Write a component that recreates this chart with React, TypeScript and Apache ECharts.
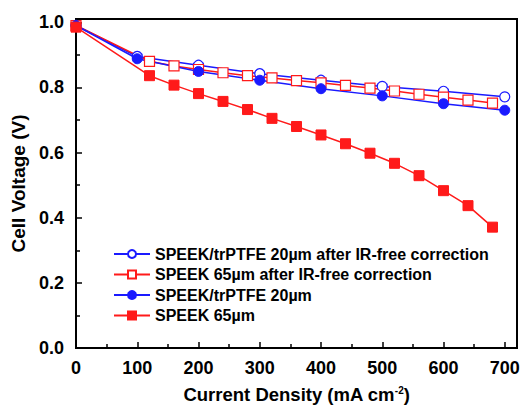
import React, { useEffect, useRef } from "react";
import * as echarts from "echarts";

const seriesNames = [
  "SPEEK/trPTFE 20µm after IR-free correction",
  "SPEEK 65µm after IR-free correction",
  "SPEEK/trPTFE 20µm",
  "SPEEK 65µm",
];

const xBlue = [0, 100, 200, 300, 400, 500, 600, 700];
const blueCorrected = [0.99, 0.895, 0.868, 0.842, 0.822, 0.803, 0.788, 0.771];
const blueRaw = [0.99, 0.888, 0.849, 0.822, 0.796, 0.774, 0.75, 0.73];

const xRed = [0, 120, 160, 200, 240, 280, 320, 360, 400, 440, 480, 520, 560, 600, 640, 680];
const redCorrected = [0.99, 0.88, 0.866, 0.855, 0.845, 0.836, 0.829, 0.821, 0.814, 0.806, 0.798, 0.789, 0.779, 0.77, 0.761, 0.752];
const redRaw = [0.985, 0.836, 0.807, 0.781, 0.757, 0.732, 0.705, 0.68, 0.654, 0.627, 0.598, 0.567, 0.529, 0.483, 0.437, 0.371];

const BLUE = "#1a1aff";
const RED = "#ff1a1a";

function pairs(xs: number[], ys: number[]) {
  return xs.map((x, i) => [x, ys[i]]);
}

export default function App() {
  const ref = useRef<HTMLDivElement>(null);
  useEffect(() => {
    if (!ref.current) return;
    const chart = echarts.init(ref.current, undefined, { renderer: "svg" });
    const font = "Arial, 'Liberation Sans', sans-serif";
    const mk = (name: string, data: number[][], color: string, symbol: string, filled: boolean) => ({
      name,
      type: "line",
      data,
      symbol,
      symbolSize: 10,
      showAllSymbol: true,
      lineStyle: { color, width: 1.5 },
      itemStyle: filled
        ? { color, borderColor: color, borderWidth: 1 }
        : { color: "#ffffff", borderColor: color, borderWidth: 1.2 },
      z: 2,
    });
    chart.setOption({
      animation: false,
      backgroundColor: "#ffffff",
      grid: {
        left: 76,
        right: 6,
        top: 19,
        bottom: 57,
        outerBoundsMode: "none",
        containLabel: false,
        show: true,
        borderColor: "#000",
        borderWidth: 2,
        backgroundColor: "transparent",
      },
      legend: {
        orient: "vertical",
        left: 108,
        top: 241,
        itemWidth: 36,
        itemHeight: 10,
        itemGap: 4.5,
        data: seriesNames,
        textStyle: { color: "#000", fontSize: 16, fontWeight: "bold", fontFamily: font },
      },
      xAxis: {
        type: "value",
        min: 0,
        max: 720,
        interval: 100,
        name: "Current Density (mA cm{sup|-2})",
        nameLocation: "middle",
        nameGap: 37,
        nameTextStyle: {
          color: "#000",
          fontSize: 18.5,
          fontWeight: "bold",
          fontFamily: font,
          rich: { sup: { fontSize: 10, fontWeight: "bold", verticalAlign: "top", padding: [0, 0, 9, 0], color: "#000", fontFamily: font } },
        },
        axisLine: { show: true, lineStyle: { color: "#000", width: 2 } },
        axisTick: { show: true, inside: true, length: 6, lineStyle: { color: "#000", width: 1.5 } },
        minorTick: { show: true, splitNumber: 2, length: 4, lineStyle: { color: "#000", width: 1.5 } },
        splitLine: { show: false },
        axisLabel: {
          color: "#000",
          fontSize: 18,
          fontWeight: "bold",
          fontFamily: font,
          margin: 11,
          formatter: (v: number) => (v % 100 === 0 && v <= 700 ? String(v) : ""),
        },
      },
      yAxis: {
        type: "value",
        min: 0,
        max: 1.01,
        interval: 0.2,
        name: "Cell Voltage (V)",
        nameLocation: "middle",
        nameGap: 48,
        nameTextStyle: { color: "#000", fontSize: 19, fontWeight: "bold", fontFamily: font },
        axisLine: { show: true, lineStyle: { color: "#000", width: 2 } },
        axisTick: { show: true, inside: true, length: 6, lineStyle: { color: "#000", width: 1.5 } },
        minorTick: { show: true, splitNumber: 2, length: 4, lineStyle: { color: "#000", width: 1.5 } },
        splitLine: { show: false },
        axisLabel: {
          color: "#000",
          fontSize: 18,
          fontWeight: "bold",
          fontFamily: font,
          margin: 12,
          formatter: (v: number) => (Math.abs(v * 5 - Math.round(v * 5)) < 1e-6 && v <= 1.0001 ? v.toFixed(1) : ""),
        },
      },
      series: [
        mk(seriesNames[0], pairs(xBlue, blueCorrected), BLUE, "circle", false),
        mk(seriesNames[1], pairs(xRed, redCorrected), RED, "rect", false),
        mk(seriesNames[2], pairs(xBlue, blueRaw), BLUE, "circle", true),
        mk(seriesNames[3], pairs(xRed, redRaw), RED, "rect", true),
      ],
    });
    return () => chart.dispose();
  }, []);
  return (
    <div
      ref={ref}
      style={{ position: "fixed", left: 0, top: 0, width: 523, height: 405, background: "#fff" }}
    />
  );
}
